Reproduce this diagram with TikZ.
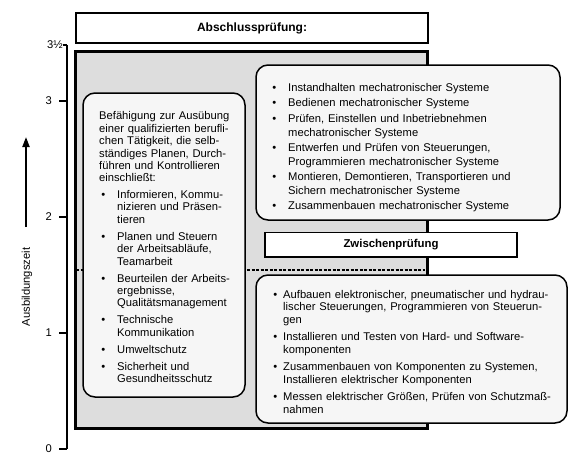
\documentclass[tikz,border=0pt]{standalone}
\usepackage{fontspec}
\setmainfont{Liberation Sans}
\usepackage{enumitem}
\usetikzlibrary{arrows.meta,positioning}
\definecolor{GrauFeld}{RGB}{221,221,221}
\definecolor{HellKasten}{RGB}{246,246,246}

\tikzset{
  kasten/.style={draw,line width=1.5pt,rounded corners=12pt,fill=HellKasten},
  pruefung/.style={draw,line width=1.6pt,fill=white,inner sep=0pt},
  liste/.style={anchor=north west,inner sep=0pt,align=left},
  strich/.style={line width=1.3pt}
}
\setlist[itemize]{label=\textbullet,partopsep=0pt,parsep=0pt}

\begin{document}
\begin{tikzpicture}[x=1pt,y=-1pt,>=Latex]
  \useasboundingbox (0,0) rectangle (577,461);
  % Zeitachse
  \draw[strich] (67,449) -- (67,45);
  \foreach \y/\t/\n in {449/0/a,333/1/b,217/2/c,101/3/d} {
    \draw[strich] (59,\y) -- (67,\y);
    \node[anchor=east,inner sep=0pt,font=\fontsize{11.2}{12}\selectfont] (jahr\n) at (52,\y) {\t};
  }
  \draw[strich] (63,45) -- (67,45);
  \node[anchor=east,inner sep=0pt,font=\fontsize{11.2}{12}\selectfont] (jahre) at (63,45) {3½};
  \coordinate (pfeilfuss) at (26,227);
  \coordinate (pfeilspitze) at (26,137);
  \draw[-{Triangle[length=10pt,width=7pt]},line width=2pt] (pfeilfuss) -- (pfeilspitze);
  \node[rotate=90,inner sep=0pt,font=\fontsize{11.2}{12}\selectfont] (zeit) at (27,287) {Ausbildungszeit};
  % Felder
  \node[pruefung,minimum width=352pt,minimum height=30pt,font=\bfseries\fontsize{12}{14}\selectfont] (abschluss) at (252,28) {Abschlussprüfung:};
  \draw[line width=3pt,fill=GrauFeld] (75,51.5) rectangle (427,428.5);
  \draw[line width=2pt,dash pattern=on 3pt off 1.5pt] (76,270) -- (425,270);
  \node[pruefung,minimum width=252pt,minimum height=24.5pt,font=\bfseries\fontsize{11.4}{13}\selectfont] (zwischen) at (391,244.7) {Zwischenprüfung};
  \draw[kasten] (83,93) rectangle (245,397);
  \draw[kasten] (256,65) rectangle (560,220);
  \draw[kasten] (256,275) rectangle (567,423);
  % Texte
  \node[liste,text width=200pt,font=\fontsize{11.2}{12.4}\selectfont] (befaehigung) at (99,111.5) {%
    Befähigung zur Ausübung\\ einer qualifizierten berufli-\\ chen Tätigkeit, die selb-\\ ständiges Planen, Durch-\\ führen und Kontrollieren\\ einschließt:
    \begin{itemize}[topsep=4.2pt,itemsep=4.6pt,leftmargin=18pt,labelsep=12pt]
      \item Informieren, Kommu-\\ nizieren und Präsen-\\ tieren
      \item Planen und Steuern\\ der Arbeitsabläufe,\\ Teamarbeit
      \item Beurteilen der Arbeits-\\ ergebnisse,\\ Qualitätsmanagement
      \item Technische\\ Kommunikation
      \item Umweltschutz
      \item Sicherheit und\\ Gesundheitsschutz
    \end{itemize}};
  \node[liste,text width=320pt,font=\fontsize{11.2}{13.8}\selectfont] (systeme) at (272,77.5) {%
    \begin{itemize}[topsep=0pt,itemsep=1.6pt,leftmargin=16pt,labelsep=12pt]
      \item Instandhalten mechatronischer Systeme
      \item Bedienen mechatronischer Systeme
      \item Prüfen, Einstellen und Inbetriebnehmen\\ mechatronischer Systeme
      \item Entwerfen und Prüfen von Steuerungen,\\ Programmieren mechatronischer Systeme
      \item Montieren, Demontieren, Transportieren und\\ Sichern mechatronischer Systeme
      \item Zusammenbauen mechatronischer Systeme
    \end{itemize}};
  \node[liste,text width=320pt,font=\fontsize{11.2}{12.5}\selectfont] (komponenten) at (272,285.5) {%
    \begin{itemize}[topsep=0pt,itemsep=5pt,leftmargin=11pt,labelsep=6pt]
      \item Aufbauen elektronischer, pneumatischer und hydrau-\\ lischer Steuerungen, Programmieren von Steuerun-\\ gen
      \item Installieren und Testen von Hard- und Software-\\ komponenten
      \item Zusammenbauen von Komponenten zu Systemen,\\ Installieren elektrischer Komponenten
      \item Messen elektrischer Größen, Prüfen von Schutzmaß-\\ nahmen
    \end{itemize}};
\end{tikzpicture}
\end{document}
